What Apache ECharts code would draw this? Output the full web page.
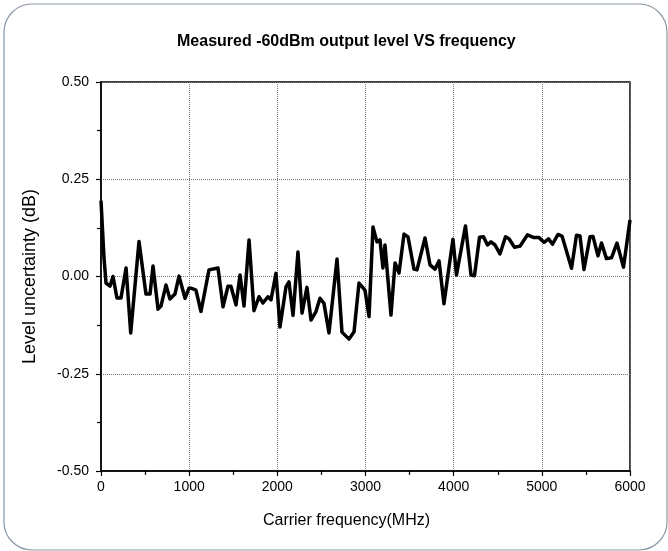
<!DOCTYPE html>
<html>
<head>
<meta charset="utf-8">
<script src="https://cdn.jsdelivr.net/npm/echarts@6/dist/echarts.min.js"></script>
<style>
html,body{margin:0;padding:0;background:#fff;}
#chart{width:668px;height:551px;}
</style>
</head>
<body>
<div id="chart"></div>
<script>
const titleText = 'Measured -60dBm output level VS frequency';
const xName = 'Carrier frequency(MHz)';
const yName = 'Level uncertainty (dB)';

const freqs = [0,34,57,102,136,181,227,284,337,431,510,556,590,647,680,737,782,839,885,953,998,
  1021,1077,1134,1225,1327,1384,1440,1474,1531,1577,1622,1679,1735,1792,1837,1894,1928,1985,
  2030,2098,2132,2178,2234,2280,2336,2382,2438,2484,2529,2586,2677,2733,2813,2870,2926,2994,
  3040,3085,3130,3164,3198,3221,3255,3289,3335,3380,3437,3482,3550,3584,3675,3732,3788,3834,3890,3947,
  3992,4032,4134,4197,4236,4293,4338,4384,4423,4469,4525,4588,4628,4690,4752,4837,4911,4968,
  5025,5076,5121,5183,5229,5337,5393,5433,5478,5546,5580,5637,5677,5733,5790,5852,5926,6000];
const levels = [0.195,0.048,-0.017,-0.025,0.0,-0.055,-0.055,0.022,-0.145,0.09,-0.045,-0.045,0.027,-0.084,-0.076,-0.022,-0.058,-0.045,0.001,-0.056,-0.03,
  -0.03,-0.035,-0.09,0.017,0.022,-0.078,-0.025,-0.025,-0.073,0.004,-0.076,0.094,-0.088,-0.052,-0.068,-0.052,-0.06,0.008,
  -0.13,-0.027,-0.014,-0.1,0.063,-0.094,-0.028,-0.112,-0.09,-0.056,-0.069,-0.145,0.045,-0.143,-0.161,-0.142,-0.017,-0.035,
  -0.103,0.127,0.089,0.094,0.022,0.081,-0.009,-0.099,0.035,0.009,0.109,0.102,0.019,0.017,0.099,0.03,0.019,0.04,-0.07,0.024,
  0.096,0.004,0.13,0.004,0.002,0.101,0.102,0.081,0.089,0.081,0.058,0.102,0.097,0.075,0.078,0.107,0.1,0.1,
  0.088,0.097,0.083,0.108,0.104,0.021,0.106,0.104,0.018,0.102,0.103,0.053,0.086,0.046,0.048,0.086,0.024,0.145];

const seriesData = freqs.map((f, i) => [f, levels[i]]);
const font = 'Liberation Sans, Arial, sans-serif';

const chart = echarts.init(document.getElementById('chart'));
chart.setOption({
  animation: false,
  backgroundColor: '#fff',
  title: {
    text: titleText, left: 172, top: 29,
    textStyle: { fontFamily: font, fontSize: 16, fontWeight: 'bold', color: '#000' }
  },
  graphic: [{
    type: 'rect', silent: true, z: -1,
    shape: { x: 4, y: 4, width: 663, height: 546, r: 28 },
    style: { fill: 'none', stroke: '#8a97a4', lineWidth: 1.2 }
  }],
  grid: { left: 101, right: 38, top: 82, bottom: 80, show: true, borderColor: '#000', borderWidth: 1.5, backgroundColor: 'transparent' },
  xAxis: {
    type: 'value', min: 0, max: 6000, interval: 1000,
    name: xName, nameLocation: 'middle', nameGap: 42,
    nameTextStyle: { fontFamily: font, fontSize: 16, color: '#000', padding: [0, 38, 0, 0] },
    axisLine: { show: true, onZero: false, lineStyle: { color: '#000', width: 1.5 } },
    axisTick: { show: true, length: 5, inside: false, lineStyle: { color: '#000', width: 1.2 } },
    minorTick: { show: true, splitNumber: 2, length: 4, lineStyle: { color: '#000', width: 1.2 } },
    axisLabel: { fontFamily: font, fontSize: 14, color: '#000', margin: 9, formatter: v => String(v) },
    splitLine: { show: true, lineStyle: { type: 'dotted', color: '#777', width: 1 } }
  },
  yAxis: {
    type: 'value', min: -0.5, max: 0.5, interval: 0.25,
    name: yName, nameLocation: 'middle', nameGap: 62,
    nameTextStyle: { fontFamily: font, fontSize: 18, color: '#000' },
    axisLine: { show: true, onZero: false, lineStyle: { color: '#000', width: 1.5 } },
    axisTick: { show: true, length: 5, inside: false, lineStyle: { color: '#000', width: 1.2 } },
    minorTick: { show: true, splitNumber: 2, length: 4, lineStyle: { color: '#000', width: 1.2 } },
    axisLabel: { fontFamily: font, fontSize: 14, color: '#000', margin: 12, formatter: v => v.toFixed(2) },
    splitLine: { show: true, lineStyle: { type: 'dotted', color: '#777', width: 1 } }
  },
  series: [{
    type: 'line', data: seriesData, showSymbol: false, symbol: 'none',
    lineStyle: { color: '#000', width: 3.5, join: 'round' }, z: 3
  }]
});
</script>
</body>
</html>
